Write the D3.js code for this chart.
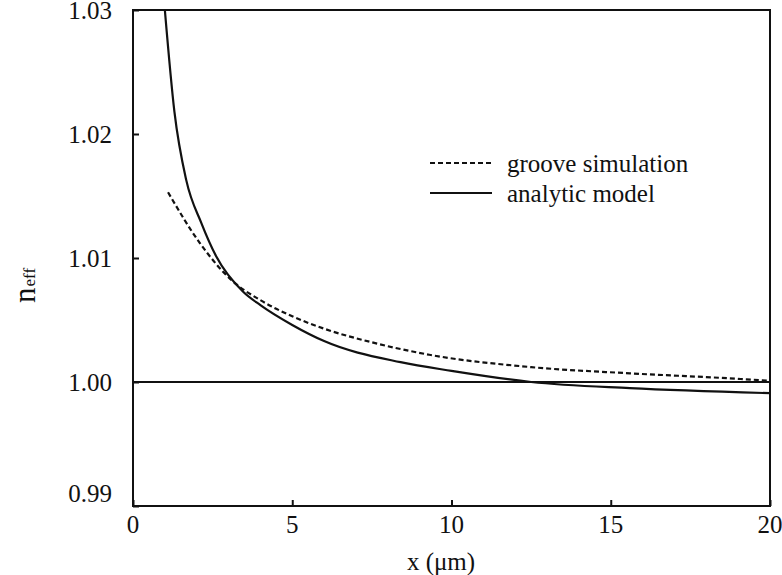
<!DOCTYPE html>
<html>
<head>
<meta charset="utf-8">
<script src="https://cdn.jsdelivr.net/npm/d3@7"></script>
</head>
<body>
<div id="chart"></div>
<script>
// groove simulation (dashed)
const grooveX = [1.1, 2.1, 3.1, 4.0, 5.0, 6.0, 7.5, 9.3, 12.5, 15.6, 18.7, 20]
const grooveN = [1.0153, 1.0112, 1.0082, 1.0066, 1.0053, 1.0043, 1.0032, 1.0022, 1.0012, 1.0007, 1.0003, 1.0001]

// analytic model (solid)
const modelX = [1.0, 1.3, 1.67, 2.15, 2.62, 3.45, 4.0, 5.0, 6.0, 8.4, 10, 12.5, 15.6, 20]
const modelN = [1.0300, 1.0218, 1.0163, 1.0128, 1.0101, 1.0073, 1.0062, 1.0046, 1.0033, 1.0016, 1.0009, 1.0000, 0.9995, 0.9991]

const refLine = [1.00]
const xTicks = [0, 5, 10, 15, 20]
const yTicks = [0.99, 1.00, 1.01, 1.02, 1.03]
const legendLabels = ["groove simulation", "analytic model"]

var margin = { top: 10, right: 12, bottom: 69, left: 133 }

var width = 782 - margin.left - margin.right,
    height = 575 - margin.top - margin.bottom

// the body keeps its default 8px margin, so pull the svg back to the corner
var root = d3.select("#chart").append("svg")
  .attr("width", width + margin.left + margin.right)
  .attr("height", height + margin.top + margin.bottom)
  .style("position", "absolute")
  .style("left", "0px")
  .style("top", "0px")

var svg = root.append("g")
  .attr("transform", "translate(" + margin.left + "," + margin.top + ")")

const xPositionScale = d3.scaleLinear().domain([0, 20]).range([0, width])
const yPositionScale = d3.scaleLinear().domain([0.99, 1.03]).range([height, 0])

svg.append("clipPath").attr("id", "plot-clip")
  .append("rect").attr("width", width).attr("height", height)

// axes: tick marks only, pointing inward (labels are drawn below)
var yAxis = d3.axisLeft(yPositionScale)
  .tickValues(yTicks)
  .tickFormat("")
  .tickSize(-6)
  .tickSizeOuter(0)
var yG = svg.append("g").attr("class", "axis y-axis").call(yAxis)
yG.select(".domain").remove()
yG.selectAll("line").attr("stroke", "#111").attr("stroke-width", 2)

var xAxis = d3.axisBottom(xPositionScale)
  .tickValues(xTicks)
  .tickFormat("")
  .tickSize(-6)
  .tickSizeOuter(0)
var xG = svg.append("g").attr("class", "axis x-axis")
  .attr("transform", "translate(0," + height + ")")
  .call(xAxis)
xG.select(".domain").remove()
xG.selectAll("line").attr("stroke", "#111").attr("stroke-width", 2)

// frame
svg.append("rect")
  .attr("width", width)
  .attr("height", height)
  .attr("fill", "none")
  .attr("stroke", "#111")
  .attr("stroke-width", 2)

// n = 1.00 line
svg.selectAll(".ref")
  .data(refLine)
  .enter().append("line")
  .attr("class", "ref")
  .attr("x1", xPositionScale(0))
  .attr("x2", xPositionScale(20))
  .attr("y1", d => yPositionScale(d))
  .attr("y2", d => yPositionScale(d))
  .attr("stroke", "#111")
  .attr("stroke-width", 2)

var line = d3.line()
  .x(d => xPositionScale(d[0]))
  .y(d => yPositionScale(d[1]))
  .curve(d3.curveMonotoneX)

svg.append("path")
  .datum(grooveX.map((x, i) => [x, grooveN[i]]))
  .attr("d", line)
  .attr("fill", "none")
  .attr("stroke", "#111")
  .attr("stroke-width", 2.2)
  .attr("stroke-dasharray", "5,3")
  .attr("clip-path", "url(#plot-clip)")

svg.append("path")
  .datum(modelX.map((x, i) => [x, modelN[i]]))
  .attr("d", line)
  .attr("fill", "none")
  .attr("stroke", "#111")
  .attr("stroke-width", 2.2)
  .attr("clip-path", "url(#plot-clip)")

// legend samples
svg.selectAll(".legend-line")
  .data(legendLabels)
  .enter().append("line")
  .attr("class", "legend-line")
  .attr("x1", 297).attr("x2", 359)
  .attr("y1", (d, i) => 153 + i * 30).attr("y2", (d, i) => 153 + i * 30)
  .attr("stroke", "#111")
  .attr("stroke-width", 2.2)
  .attr("stroke-dasharray", (d, i) => i === 0 ? "5,3" : null)

// ---- all text sits straight on the svg, like the font test page ----

root.selectAll(".ytick-label")
  .data(yTicks)
  .enter().append("text")
  .attr("class", "ytick-label")
  .attr("x", margin.left - 21)
  .attr("y", d => margin.top + yPositionScale(d) + (d === 0.99 ? -4 : 9))
  .attr("text-anchor", "end")
  .attr("font-size", 25)
  .attr("fill", "#111")
  .style("font-family", "'Liberation Serif'")
  .text(d => d3.format(".2f")(d))

root.selectAll(".xtick-label")
  .data(xTicks)
  .enter().append("text")
  .attr("class", "xtick-label")
  .attr("x", d => margin.left + xPositionScale(d))
  .attr("y", margin.top + height + 27)
  .attr("text-anchor", "middle")
  .attr("font-size", 25)
  .attr("fill", "#111")
  .style("font-family", "'Liberation Serif'")
  .text(d => d)

root.selectAll(".legend-label")
  .data(legendLabels)
  .enter().append("text")
  .attr("class", "legend-label")
  .attr("x", margin.left + 374)
  .attr("y", (d, i) => margin.top + 162 + i * 30)
  .attr("font-size", 25)
  .attr("fill", "#111")
  .style("font-family", "'Liberation Serif'")
  .text(d => d)

root.append("text")
  .attr("x", margin.left + 308)
  .attr("y", margin.top + height + 64)
  .attr("text-anchor", "middle")
  .attr("font-size", 25)
  .attr("fill", "#111")
  .style("font-family", "'Liberation Serif'")
  .text("x (\u03bcm)")

var yTitle = root.append("text")
  .attr("transform", "translate(35,303) rotate(-90)")
  .attr("fill", "#111")
  .style("font-family", "'Liberation Serif'")
yTitle.append("tspan").attr("font-size", 31).text("n")
yTitle.append("tspan").attr("font-size", 17).attr("dx", 1).text("eff")
</script>
</body>
</html>
